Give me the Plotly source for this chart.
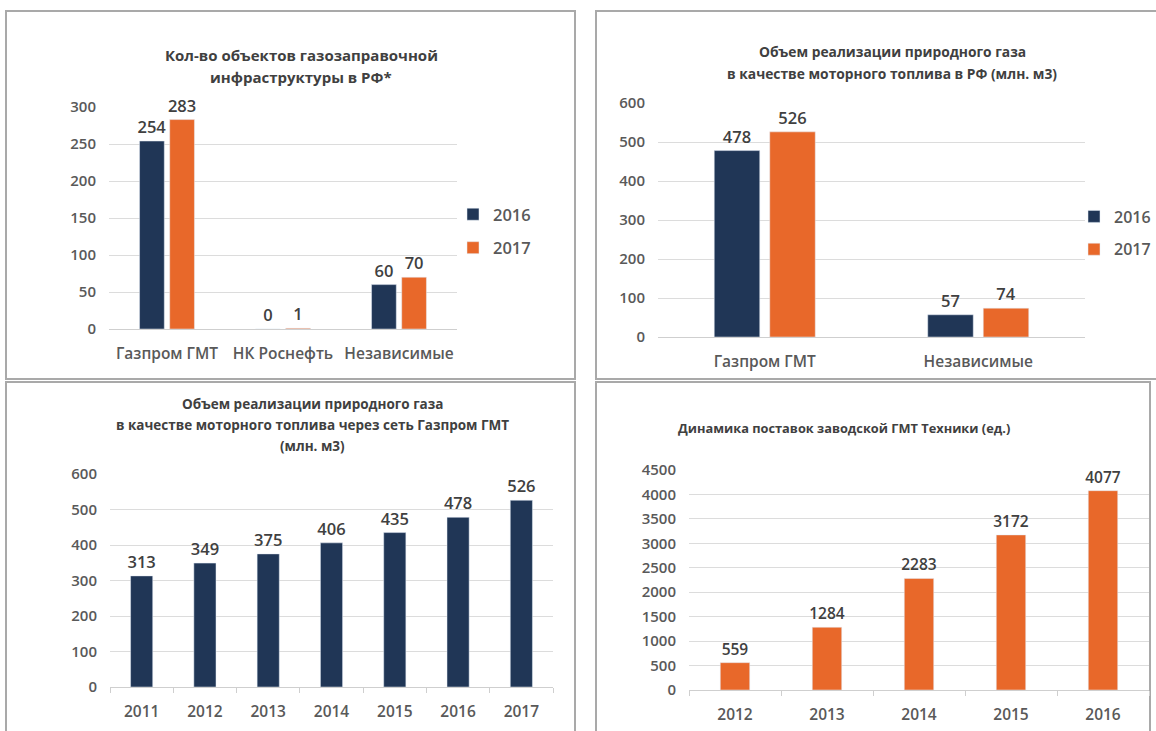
import plotly.graph_objects as go

# ---------------- data ----------------
p1_categories = ["Газпром ГМТ", "НК Роснефть", "Независимые"]
p1_2016 = [254, 0, 60]
p1_2017 = [283, 1, 70]
p1_title = ["Кол-во объектов газозаправочной", "инфраструктуры в РФ*"]

p2_categories = ["Газпром ГМТ", "Независимые"]
p2_2016 = [478, 57]
p2_2017 = [526, 74]
p2_title = ["Объем реализации природного газа", "в качестве моторного топлива в РФ (млн. м3)"]

p3_years = ["2011", "2012", "2013", "2014", "2015", "2016", "2017"]
p3_values = [313, 349, 375, 406, 435, 478, 526]
p3_title = ["Объем реализации природного газа",
            "в качестве моторного топлива через сеть Газпром ГМТ", "(млн. м3)"]

p4_years = ["2012", "2013", "2014", "2015", "2016"]
p4_values = [559, 1284, 2283, 3172, 4077]
p4_title = ["Динамика поставок заводской ГМТ Техники (ед.)"]

series_names = ["2016", "2017"]

# ---------------- style ----------------
W, H = 1156, 731
NAVY = "#203656"
ORANGE = "#e8682a"
TXT = "#404040"
TICK = "#595959"
GRID = "#dcdcdc"
BORDER = "#a9a9a9"
FONT = "Open Sans"


def px(x):
    return x / W


def py(y):
    return 1 - y / H


def clamp(v):
    return max(0.0, min(1.0, v))


fig = go.Figure()

lbl_font = dict(family=FONT, size=16.5, color=TXT, weight=600)
lbl_font4 = dict(family=FONT, size=15.5, color=TXT, weight=600)
common = dict(textposition="outside", cliponaxis=False, constraintext="none")

# Panel 1
fig.add_trace(go.Bar(x=p1_categories, y=p1_2016, name=series_names[0], marker_color=NAVY,
                     text=p1_2016, textfont=lbl_font, xaxis="x", yaxis="y",
                     legend="legend", legendgroup="a", **common))
fig.add_trace(go.Bar(x=p1_categories, y=p1_2017, name=series_names[1], marker_color=ORANGE,
                     text=p1_2017, textfont=lbl_font, xaxis="x", yaxis="y",
                     legend="legend", legendgroup="b", **common))
# Panel 2
fig.add_trace(go.Bar(x=p2_categories, y=p2_2016, name=series_names[0], marker_color=NAVY,
                     text=p2_2016, textfont=lbl_font, xaxis="x2", yaxis="y2",
                     legend="legend2", legendgroup="c", **common))
fig.add_trace(go.Bar(x=p2_categories, y=p2_2017, name=series_names[1], marker_color=ORANGE,
                     text=p2_2017, textfont=lbl_font, xaxis="x2", yaxis="y2",
                     legend="legend2", legendgroup="d", **common))
# Panel 3
fig.add_trace(go.Bar(x=p3_years, y=p3_values, marker_color=NAVY, showlegend=False, width=0.35,
                     text=p3_values, textfont=lbl_font, xaxis="x3", yaxis="y3", **common))
# Panel 4
fig.add_trace(go.Bar(x=p4_years, y=p4_values, marker_color=ORANGE, showlegend=False, width=0.32,
                     text=p4_values, textfont=lbl_font4, xaxis="x4", yaxis="y4", **common))

tickfont = dict(family=FONT, size=15, color=TICK, weight=600)
xtickfont = dict(family=FONT, size=15.5, color=TICK, weight=600)


def yax(y0, y1, rng, dtick, anchor):
    return dict(domain=[clamp(py(y0)), clamp(py(y1))], range=rng, dtick=dtick, anchor=anchor,
                showgrid=True, gridcolor=GRID, gridwidth=1, zeroline=True,
                zerolinecolor="#cfcfcf", zerolinewidth=1, showline=False, ticks="",
                tickfont=tickfont, ticklabelstandoff=12, fixedrange=True)


def xax(x0, x1, anchor, boundary_ticks=False):
    d = dict(domain=[clamp(px(x0)), clamp(px(x1))], anchor=anchor, showgrid=False,
             showline=False, zeroline=False, tickfont=xtickfont, fixedrange=True,
             type="category")
    if boundary_ticks:
        d.update(ticks="outside", tickson="boundaries", ticklen=5, tickcolor="#cfcfcf",
                 ticklabelstandoff=13)
    else:
        d.update(ticks="", ticklabelstandoff=13)
    return d


legfont = dict(family=FONT, size=16.5, color=TICK, weight=600)
legfont2 = dict(family=FONT, size=16, color=TICK, weight=600)

fig.update_layout(
    width=W, height=H, margin=dict(l=0, r=0, t=0, b=0, autoexpand=False),
    paper_bgcolor="white", plot_bgcolor="white",
    barmode="group",
    bargap=0.48, bargroupgap=0.18,
    xaxis=xax(109, 457, "y"),
    yaxis=yax(329, 107, [0, 300], 50, "x"),
    xaxis2=xax(658, 1085, "y2"),
    yaxis2=yax(337, 103, [0, 600], 100, "x2"),
    xaxis3=xax(110, 553, "y3", True),
    yaxis3=yax(687, 474, [0, 600], 100, "x3"),
    xaxis4=xax(689, 1149, "y4", True),
    yaxis4=yax(690, 470, [0, 4500], 500, "x4"),
    legend=dict(x=px(453), y=py(231), xanchor="left", yanchor="middle",
                font=legfont, traceorder="grouped",
                tracegroupgap=9, itemwidth=30, bgcolor="rgba(0,0,0,0)"),
    legend2=dict(x=px(1074), y=py(233), xanchor="left", yanchor="middle",
                 font=legfont2, traceorder="grouped",
                 tracegroupgap=9, itemwidth=30, bgcolor="rgba(0,0,0,0)"),
    showlegend=True,
)

# Panel borders
borders = [(6, 11, 575, 379), (596, 11, 1190, 379), (6, 382, 575, 780), (596, 382, 1150, 780)]
for x0, y0, x1, y1 in borders:
    fig.add_shape(type="rect", xref="paper", yref="paper",
                  x0=px(x0), x1=px(x1), y0=py(y1), y1=py(y0),
                  line=dict(color=BORDER, width=2), fillcolor="rgba(0,0,0,0)", layer="below")


def add_title(lines, cx, ys, size=13):
    for line, y in zip(lines, ys):
        fig.add_annotation(text=line, xref="paper", yref="paper", x=px(cx), y=py(y),
                           xanchor="center", yanchor="middle", showarrow=False,
                           font=dict(family=FONT, size=size, color=TXT, weight="bold"))


add_title(p1_title, 301, [55, 77], size=15)
add_title(p2_title, 892, [51, 73], size=13.8)
add_title(p3_title, 312, [404, 425, 446], size=13.5)
add_title(p4_title, 844, [428], size=12.8)

fig.write_html("out.html")
